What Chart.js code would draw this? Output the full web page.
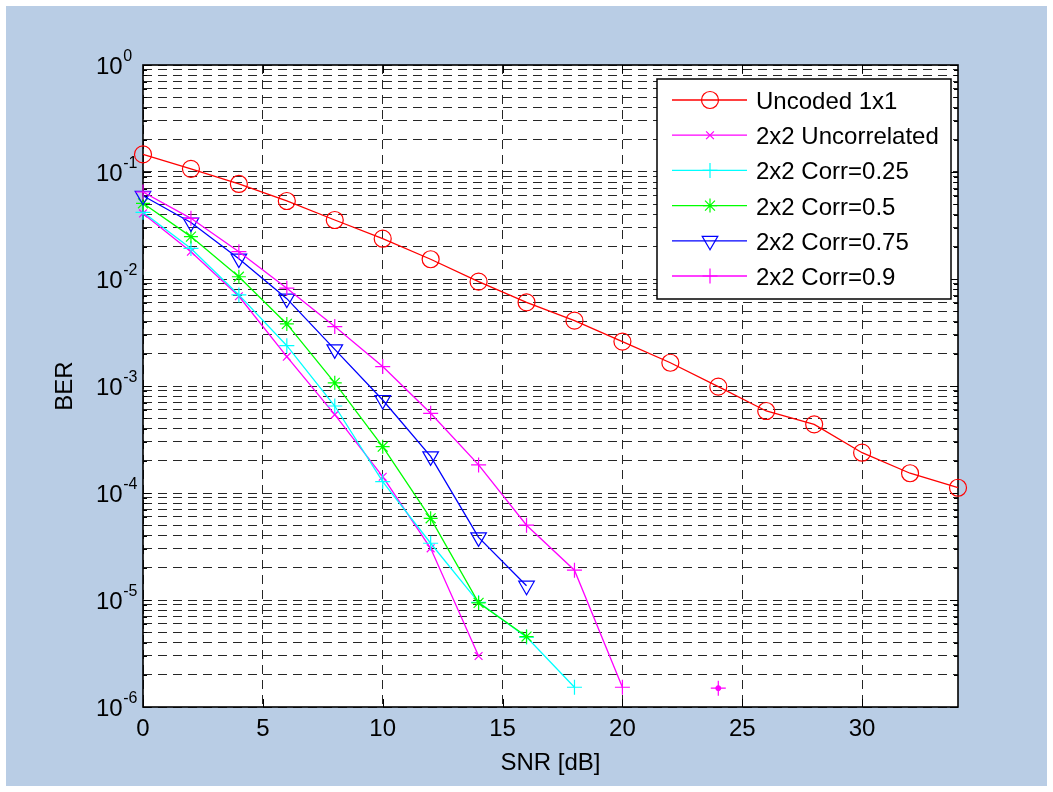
<!DOCTYPE html>
<html>
<head>
<meta charset="utf-8">
<title>BER vs SNR</title>
<script src="https://cdn.jsdelivr.net/npm/chart.js@4.4.1/dist/chart.umd.min.js"></script>
<style>
  html, body { margin: 0; padding: 0; background: #ffffff; }
  canvas { display: block; }
</style>
</head>
<body>
<canvas id="ber" width="1053" height="792"></canvas>
<script>
// SNR sweep in dB
const snr = [0, 2, 4, 6, 8, 10, 12, 14, 16, 18, 20, 22, 24, 26, 28, 30, 32, 34];

// Bit error rates, one value per SNR step (null = no errors counted)
const uncoded1x1      = [0.146, 0.107, 0.0773, 0.0536, 0.0356, 0.0238, 0.0153, 0.00944, 0.00605,
                         0.00408, 0.0026, 0.00165, 9.86e-4, 5.84e-4, 4.38e-4, 2.38e-4, 1.53e-4, 1.12e-4];
const uncorrelated2x2 = [0.041, 0.018, 0.0069, 0.00188, 5.4e-4, 1.42e-4, 3.04e-5, 3.0e-6];
const corr025         = [0.042, 0.0193, 0.0071, 0.00238, 6.5e-4, 1.28e-4, 3.39e-5, 9.5e-6, 4.5e-6, 1.53e-6];
const corr05          = [0.051, 0.0249, 0.0105, 0.0038, 0.00107, 2.71e-4, 5.8e-5, 9.4e-6, 4.55e-6];
const corr075         = [0.060, 0.0337, 0.0155, 0.00655, 0.0022, 7.4e-4, 2.2e-4, 3.85e-5, 1.36e-5];
const corr09          = [0.065, 0.0369, 0.018, 0.0082, 0.00359, 0.00152, 5.56e-4, 1.83e-4, 5.0e-5,
                         1.9e-5, 1.53e-6, null, 1.5e-6];

// Axis ticks
const xTicks = [0, 5, 10, 15, 20, 25, 30];
const yDecades = [0, -1, -2, -3, -4, -5, -6];

const FONT = '"Liberation Sans", Arial, Helvetica, sans-serif';

function toPoints(values) {
  return values.map((v, i) => ({ x: snr[i], y: v }));
}
// samples with no neighbour on either side (drawn with an extra dot)
function isolatedPoints(values) {
  const out = [];
  values.forEach((v, i) => {
    if (v === null) return;
    const prev = i > 0 ? values[i - 1] : null;
    const next = i < values.length - 1 ? values[i + 1] : null;
    if (prev === null && next === null) out.push({ x: snr[i], y: v });
  });
  return out;
}

function series(label, values, color, style, radius, rotation) {
  return {
    label,
    data: toPoints(values),
    borderColor: color,
    backgroundColor: color,
    borderWidth: 1.3,
    pointStyle: style,
    pointRadius: radius,
    pointHoverRadius: radius,
    pointRotation: rotation || 0,
    pointBorderColor: color,
    pointBackgroundColor: 'rgba(0,0,0,0)',
    pointBorderWidth: 1.2,
    tension: 0,
    fill: false,
    spanGaps: false,
    clip: false
  };
}

const datasets = [
  series('Uncoded 1x1',      uncoded1x1,      '#ff0000', 'circle',   8.5),
  series('2x2 Uncorrelated', uncorrelated2x2, '#ff00ff', 'crossRot', 5.5),
  series('2x2 Corr=0.25',    corr025,         '#00ffff', 'cross',    7.5),
  series('2x2 Corr=0.5',     corr05,          '#00ff00', 'star',     7),
  series('2x2 Corr=0.75',    corr075,         '#0000ff', 'triangle', 9, 180),
  series('2x2 Corr=0.9',     corr09,          '#ff00ff', 'cross',    7.5)
];
// solid dot on isolated Corr=0.9 samples
datasets.push({
  label: '2x2 Corr=0.9',
  data: isolatedPoints(corr09),
  showLine: false,
  borderColor: '#ff00ff',
  pointStyle: 'circle',
  pointRadius: 2.5,
  pointHoverRadius: 2.5,
  pointBackgroundColor: '#ff00ff',
  pointBorderColor: '#ff00ff',
  pointBorderWidth: 1,
  clip: false,
  skipInLegend: true
});
// later series drawn over earlier ones
datasets.forEach((d, i) => { d.order = datasets.length - i; });

const backdrop = {
  id: 'backdrop',
  beforeDraw(chart) {
    const { ctx, width, height, chartArea: a } = chart;
    ctx.save();
    ctx.fillStyle = '#ffffff';
    ctx.fillRect(0, 0, width, height);
    ctx.fillStyle = '#b9cde5';
    ctx.fillRect(6, 6, width - 12, height - 12);
    ctx.fillStyle = '#ffffff';
    ctx.fillRect(a.left, a.top, a.right - a.left, a.bottom - a.top);
    ctx.restore();
  }
};

const axesFrame = {
  id: 'axesFrame',
  beforeDatasetsDraw(chart) {
    const { ctx, chartArea: a, scales } = chart;
    const x = scales.x, y = scales.y;
    ctx.save();
    ctx.strokeStyle = '#000000';
    ctx.lineWidth = 1;
    ctx.setLineDash([]);
    // inward tick marks
    ctx.beginPath();
    y.ticks.forEach(t => {
      const py = Math.round(y.getPixelForValue(t.value)) + 0.5;
      const len = t.major ? 8 : 4;
      ctx.moveTo(a.left, py); ctx.lineTo(a.left + len, py);
      ctx.moveTo(a.right, py); ctx.lineTo(a.right - len, py);
    });
    xTicks.forEach(v => {
      const px = Math.round(x.getPixelForValue(v)) + 0.5;
      ctx.moveTo(px, a.bottom); ctx.lineTo(px, a.bottom - 8);
      ctx.moveTo(px, a.top); ctx.lineTo(px, a.top + 8);
    });
    ctx.stroke();
    // box
    ctx.lineWidth = 1.6;
    ctx.strokeRect(a.left, a.top, a.right - a.left, a.bottom - a.top);
    ctx.restore();
  },
  afterDraw(chart) {
    const { ctx, chartArea: a, scales } = chart;
    const x = scales.x, y = scales.y;
    ctx.save();
    ctx.fillStyle = '#000000';
    // x tick labels
    ctx.font = '24px ' + FONT;
    ctx.textAlign = 'center';
    ctx.textBaseline = 'alphabetic';
    xTicks.forEach(v => ctx.fillText(String(v), x.getPixelForValue(v), a.bottom + 29));
    // y tick labels as 10^k
    yDecades.forEach(k => {
      const py = y.getPixelForValue(Math.pow(10, k));
      ctx.font = '24px ' + FONT;
      ctx.textAlign = 'left';
      ctx.fillText('10', 96, py + 9);
      const w = ctx.measureText('10').width;
      ctx.font = '16px ' + FONT;
      ctx.fillText(String(k), 96 + w + 0.5, py - 4);
    });
    // axis titles
    ctx.font = '24px ' + FONT;
    ctx.textAlign = 'center';
    ctx.fillText('SNR [dB]', (a.left + a.right) / 2, a.bottom + 63);
    ctx.save();
    ctx.translate(72, (a.top + a.bottom) / 2);
    ctx.rotate(-Math.PI / 2);
    ctx.fillText('BER', 0, 0);
    ctx.restore();
    ctx.restore();
  }
};

const legendBox = {
  id: 'legendBox',
  afterDatasetsDraw(chart) {
    const { ctx } = chart;
    const box = { left: 657, top: 79, right: 951, bottom: 299 };
    ctx.save();
    ctx.setLineDash([]);
    ctx.fillStyle = '#ffffff';
    ctx.fillRect(box.left, box.top, box.right - box.left, box.bottom - box.top);
    ctx.strokeStyle = '#000000';
    ctx.lineWidth = 1.5;
    ctx.strokeRect(box.left, box.top, box.right - box.left, box.bottom - box.top);
    const entries = chart.data.datasets.filter(d => !d.skipInLegend);
    entries.forEach((d, i) => {
      const ry = 100 + i * 35.2;
      ctx.strokeStyle = d.borderColor;
      ctx.lineWidth = 1.3;
      ctx.beginPath();
      ctx.moveTo(672, ry); ctx.lineTo(747, ry);
      ctx.stroke();
      ctx.fillStyle = 'rgba(0,0,0,0)';
      ctx.strokeStyle = d.pointBorderColor;
      ctx.lineWidth = 1.2;
      Chart.helpers.drawPoint(ctx, {
        pointStyle: d.pointStyle,
        rotation: d.pointRotation || 0,
        radius: d.pointRadius,
        borderWidth: 1.2
      }, 710, ry);
      ctx.fillStyle = '#000000';
      ctx.font = '24px ' + FONT;
      ctx.textAlign = 'left';
      ctx.textBaseline = 'alphabetic';
      ctx.fillText(d.label, 756, ry + 9);
    });
    ctx.restore();
  }
};

const gridStyle = {
  display: true,
  drawOnChartArea: true,
  drawTicks: false,
  color: '#262626',
  lineWidth: 1
};

new Chart(document.getElementById('ber'), {
  type: 'line',
  data: { datasets },
  plugins: [backdrop, axesFrame, legendBox],
  options: {
    responsive: false,
    devicePixelRatio: 1,
    animation: false,
    events: [],
    layout: { padding: { left: 0, top: 65, right: 95, bottom: 0 } },
    plugins: { legend: { display: false }, tooltip: { enabled: false }, title: { display: false } },
    scales: {
      x: {
        type: 'linear',
        min: 0,
        max: 34,
        afterBuildTicks(scale) { scale.ticks = xTicks.map(v => ({ value: v })); },
        afterFit(scale) { scale.height = 85; },
        ticks: { display: false },
        grid: gridStyle,
        border: { display: false, dash: [9, 6] }
      },
      y: {
        type: 'logarithmic',
        min: 1e-6,
        max: 1,
        afterBuildTicks(scale) {
          const ticks = [];
          for (let k = -6; k <= 0; k++) {
            for (let m = 1; m <= 9; m++) {
              const v = m * Math.pow(10, k);
              if (v > 1.0000001) break;
              ticks.push({ value: v, major: m === 1 });
            }
          }
          scale.ticks = ticks;
        },
        afterFit(scale) { scale.width = 143; },
        ticks: { display: false, autoSkip: false },
        grid: gridStyle,
        border: { display: false, dash: [9, 6] }
      }
    }
  }
});
</script>
</body>
</html>
